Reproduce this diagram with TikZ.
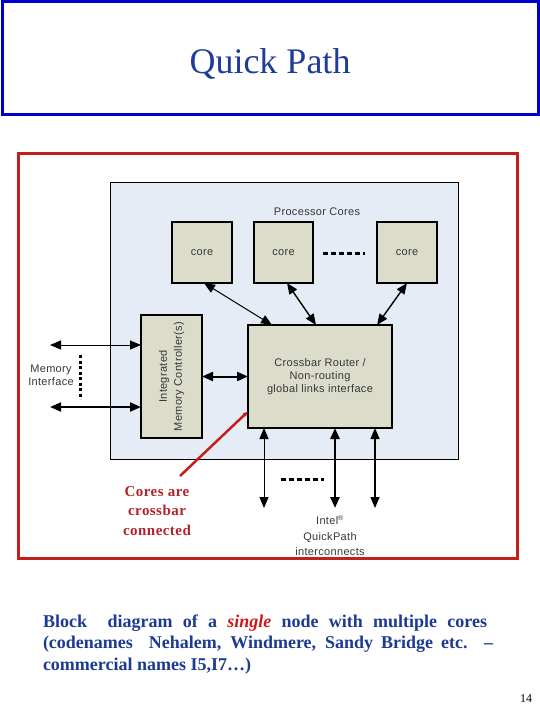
\documentclass[tikz,border=0pt]{standalone}
\usepackage{fontspec}
\setmainfont{Liberation Serif}
\newfontfamily\diag{Liberation Sans}[LetterSpace=3]
\newfontfamily\redserif{Liberation Serif}[LetterSpace=3]
\usetikzlibrary{arrows.meta,calc}
\definecolor{titleblue}{RGB}{30,60,154}
\definecolor{boxblue}{RGB}{0,0,205}
\definecolor{framered}{RGB}{196,30,30}
\definecolor{innerfill}{RGB}{230,236,246}
\definecolor{corefill}{RGB}{220,220,203}
\definecolor{diaggray}{RGB}{55,55,55}
\definecolor{bodyblue}{RGB}{28,58,148}
\definecolor{redtext}{RGB}{181,32,42}
\definecolor{singlered}{RGB}{204,26,26}
\begin{document}
\begin{tikzpicture}[x=1pt,y=-1pt,
  every node/.style={inner sep=0pt, outer sep=0pt},
  plainbox/.style={draw=black, line width=1.4pt, fill=corefill},
  dtext/.style={font=\diag\fontsize{11}{13}\selectfont, text=diaggray, align=center},
  biarrow/.style={black, line width=1pt, {Triangle[length=11pt,width=9pt]}-{Triangle[length=11pt,width=9pt]}},
  dashline/.style={black, line width=3pt, dash pattern=on 5pt off 3pt},
  bodyline/.style={anchor=base west, font=\bfseries\fontsize{18}{21}\selectfont, text=bodyblue}
]
\useasboundingbox (0,0) rectangle (540,720);

% title
\node[draw=boxblue, line width=3pt, minimum width=536pt, minimum height=113pt] (titlebox) at (270,58) {};
\node[anchor=base, font=\fontsize{36}{40}\selectfont, text=titleblue] (title) at (270,73) {Quick Path};

% red frame
\node[draw=framered, line width=3pt, minimum width=499pt, minimum height=405pt] (frame) at (267.5,355.5) {};

% inner panel
\node[draw=black, line width=1pt, fill=innerfill, minimum width=348pt, minimum height=277pt] (inner) at (284,320.5) {};
\node[dtext] (pc) at (317,212) {Processor Cores};

% cores
\node[plainbox, dtext, minimum width=60pt, minimum height=61pt] (c1) at (202,252.5) {core};
\node[plainbox, dtext, minimum width=59pt, minimum height=61pt] (c2) at (283.5,252.5) {core};
\node[plainbox, dtext, minimum width=60pt, minimum height=61pt] (c3) at (407,252.5) {core};
\coordinate (d1) at (323,253);
\coordinate (d2) at (365,253);
\draw[dashline] (d1) -- (d2);

% memory controller and crossbar
\node[plainbox, minimum width=61pt, minimum height=123pt] (mc) at (171.5,376.5) {};
\node[dtext, rotate=90, font=\diag\fontsize{11}{15}\selectfont] (mctext) at (mc.center) {Integrated\\Memory Controller(s)};
\node[plainbox, dtext, minimum width=144pt, minimum height=103pt] (xb) at (320,376.5) {Crossbar Router /\\Non-routing\\global links interface};

% core arrows
\draw[biarrow] ([xshift=2pt]c1.south) -- ([xshift=-48pt]xb.north);
\draw[biarrow, line width=1.4pt] ([xshift=3.5pt]c2.south) -- ([xshift=-4pt]xb.north);
\draw[biarrow, line width=1.4pt] (c3.south) -- ([xshift=57pt]xb.north);

% memory interface
\coordinate (m1) at (50,345);
\coordinate (m2) at (50,407);
\draw[biarrow] (m1) -- ([yshift=31.5pt]mc.west);
\draw[biarrow, line width=2pt] (m2) -- ([yshift=-30.5pt]mc.west);
\coordinate (v1) at (80,355);
\coordinate (v2) at (80,399);
\draw[black, line width=3pt, dash pattern=on 3pt off 2.5pt] (v1) -- (v2);
\node[dtext] (memtext) at (51,375) {Memory\\Interface};

\draw[biarrow, line width=2pt] (mc.east) -- (xb.west);

% bottom arrows
\coordinate (b1) at (264,508);
\coordinate (b2) at (335,508);
\coordinate (b3) at (375,508);
\draw[biarrow] ([xshift=-56pt]xb.south) -- (b1);
\draw[biarrow, line width=2.6pt] ([xshift=15pt]xb.south) -- (b2);
\draw[biarrow, line width=1.3pt] ([xshift=55pt]xb.south) -- (b3);
\coordinate (e1) at (281,479);
\coordinate (e2) at (324,479);
\draw[dashline] (e1) -- (e2);
\node[dtext, font=\diag\fontsize{11}{15.5}\selectfont] (intel) at (330,536) {Intel\textsuperscript{\scriptsize ®}\\QuickPath\\interconnects};

% red callout
\node[anchor=base, font=\redserif\bfseries\fontsize{15}{19}\selectfont, text=redtext] (r1) at (157,496) {Cores are};
\node[anchor=base, font=\redserif\bfseries\fontsize{15}{19}\selectfont, text=redtext] (r2) at (157,515) {crossbar};
\node[anchor=base, font=\redserif\bfseries\fontsize{15}{19}\selectfont, text=redtext] (r3) at (157,535) {connected};
\coordinate (rp) at (180,476);
\draw[framered, line width=2.5pt, -{Latex[length=5pt,width=5pt]}] (rp) -- ([yshift=-35pt]xb.west);

% caption
\node[bodyline] (l1) at (43,627) {\makebox[444pt][s]{Block\ \ diagram of a \textcolor{singlered}{\textit{single}} node with multiple cores}};
\node[bodyline] (l2) at (43,648.5) {\makebox[450pt][s]{(codenames\ \ Nehalem, Windmere, Sandy Bridge etc. –}};
\node[bodyline] (l3) at (43,670) {commercial names I5,I7…)};

\node[anchor=base, font=\fontsize{12}{14}\selectfont] (pg) at (526,702) {14};
\end{tikzpicture}
\end{document}
